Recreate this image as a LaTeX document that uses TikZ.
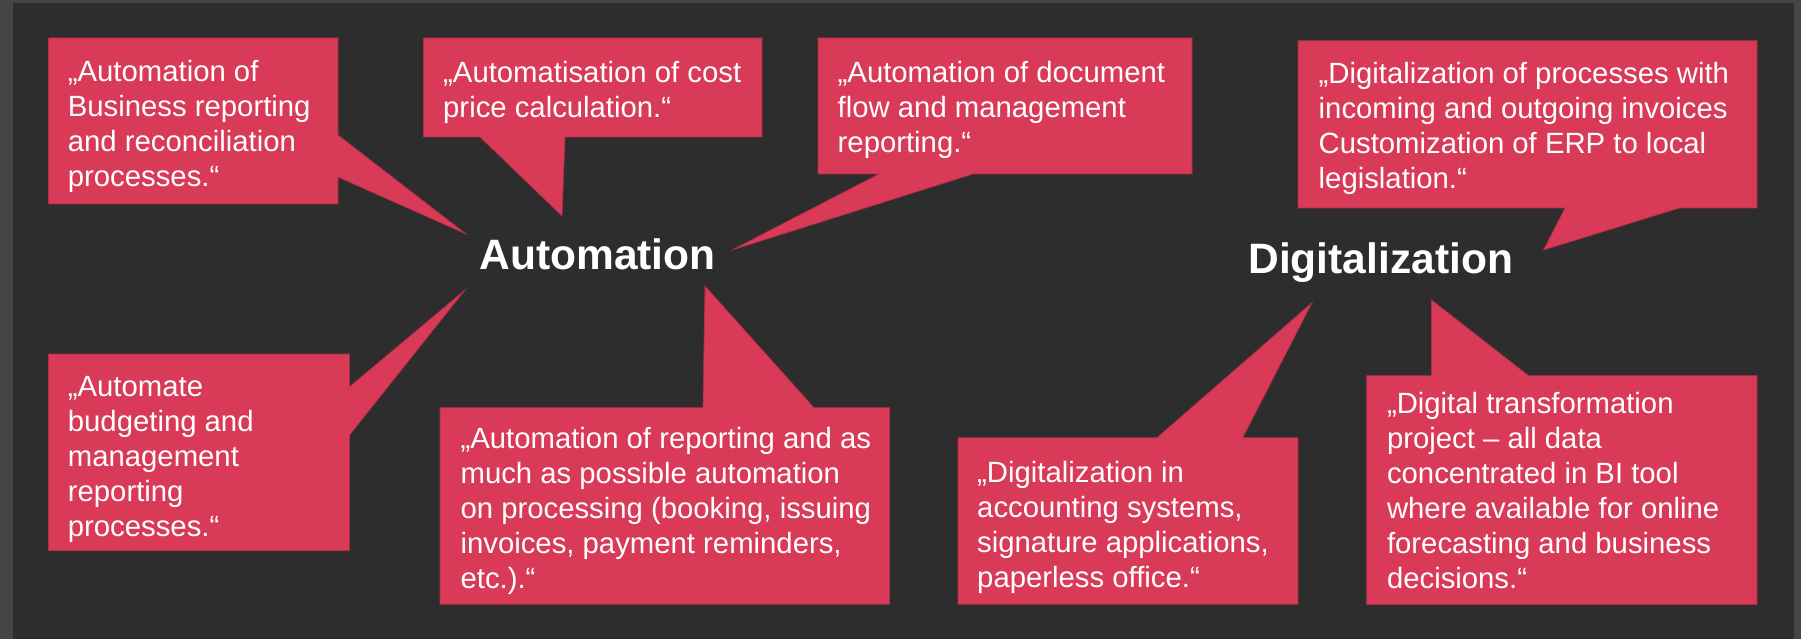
\documentclass[tikz,border=0pt]{standalone}
\usepackage{fontspec}
\setmainfont{Liberation Sans}
\definecolor{framegray}{HTML}{454545}
\definecolor{bgdark}{HTML}{2D2D2D}
\definecolor{callred}{HTML}{D93A57}
\begin{document}
\begin{tikzpicture}[x=1pt,y=-1pt,
  callout/.style={fill=callred, draw=callred!80!black, line width=0.7pt, line join=miter},
  quote/.style={anchor=base west, inner sep=0pt, text=white, font=\fontsize{29.3}{35}\selectfont},
  keyword/.style={anchor=base, inner sep=0pt, text=white, font=\fontsize{42.5}{50}\selectfont\bfseries}]
\useasboundingbox (0,0) rectangle (1801,639);
\fill[framegray] (0,0) rectangle (1801,639);
\fill[bgdark] (13,3) rectangle (1794,639);

% centre labels
\node[keyword] (auto) at (597.5,269) {Automation};
\node[keyword] (digi) at (1380.7,273) {Digitalization};

% tips of the callouts
\coordinate (t1) at (466,234);
\coordinate (t2) at (562,216);
\coordinate (t3) at (732,250);
\coordinate (t4) at (1543.5,250);
\coordinate (t5) at (465,290);
\coordinate (t6) at (705,286);
\coordinate (t7) at (1312,302.7);
\coordinate (t8) at (1431.5,300);

% callouts
\draw[callout] (48.5,38) -- (338,38) -- (338,135) -- (t1) -- (338,177) -- (338,204) -- (48.5,204) -- cycle;
\draw[callout] (423.5,38) -- (762,38) -- (762,137) -- (565,137) -- (t2) -- (480,137) -- (423.5,137) -- cycle;
\draw[callout] (818,38) -- (1192,38) -- (1192,174) -- (973,174) -- (t3) -- (879,174) -- (818,174) -- cycle;
\draw[callout] (1298,40.7) -- (1757,40.7) -- (1757,208) -- (1679.5,208) -- (t4) -- (1565,208) -- (1298,208) -- cycle;
\draw[callout] (48.5,354) -- (349.6,354) -- (349.6,386.7) -- (t5) -- (349.6,435) -- (349.6,550.7) -- (48.5,550.7) -- cycle;
\draw[callout] (440,407.7) -- (703,407.7) -- (t6) -- (814,407.7) -- (889.7,407.7) -- (889.7,604.3) -- (440,604.3) -- cycle;
\draw[callout] (958,437.7) -- (1157,437.7) -- (t7) -- (1242.7,437.7) -- (1298,437.7) -- (1298,604.3) -- (958,604.3) -- cycle;
\draw[callout] (1366.7,375.7) -- (1431.5,375.7) -- (t8) -- (1528.6,375.7) -- (1757,375.7) -- (1757,604.5) -- (1366.7,604.5) -- cycle;

% texts
\node[quote] (q1) at (67.7,82) {\parbox[t]{400pt}{„Automation of\\Business reporting\\and reconciliation\\processes.“}};
\node[quote] (q2) at (443,83) {\parbox[t]{400pt}{„Automatisation of cost\\price calculation.“}};
\node[quote] (q3) at (837.5,83) {\parbox[t]{400pt}{„Automation of document\\flow and management\\reporting.“}};
\node[quote] (q4) at (1318.5,83.5) {\parbox[t]{500pt}{„Digitalization of processes with\\incoming and outgoing invoices\\Customization of ERP to local\\legislation.“}};
\node[quote] (q5) at (67.7,396) {\parbox[t]{400pt}{„Automate\\budgeting and\\management\\reporting\\processes.“}};
\node[quote] (q6) at (460.4,448.7) {\parbox[t]{500pt}{„Automation of reporting and as\\much as possible automation\\on processing (booking, issuing\\invoices, payment reminders,\\etc.).“}};
\node[quote] (q7) at (977,482) {\parbox[t]{400pt}{„Digitalization in\\accounting systems,\\signature applications,\\paperless office.“}};
\node[quote] (q8) at (1386.8,413.7) {\parbox[t]{400pt}{„Digital transformation\\project – all data\\concentrated in BI tool\\where available for online\\forecasting and business\\decisions.“}};
\end{tikzpicture}
\end{document}
